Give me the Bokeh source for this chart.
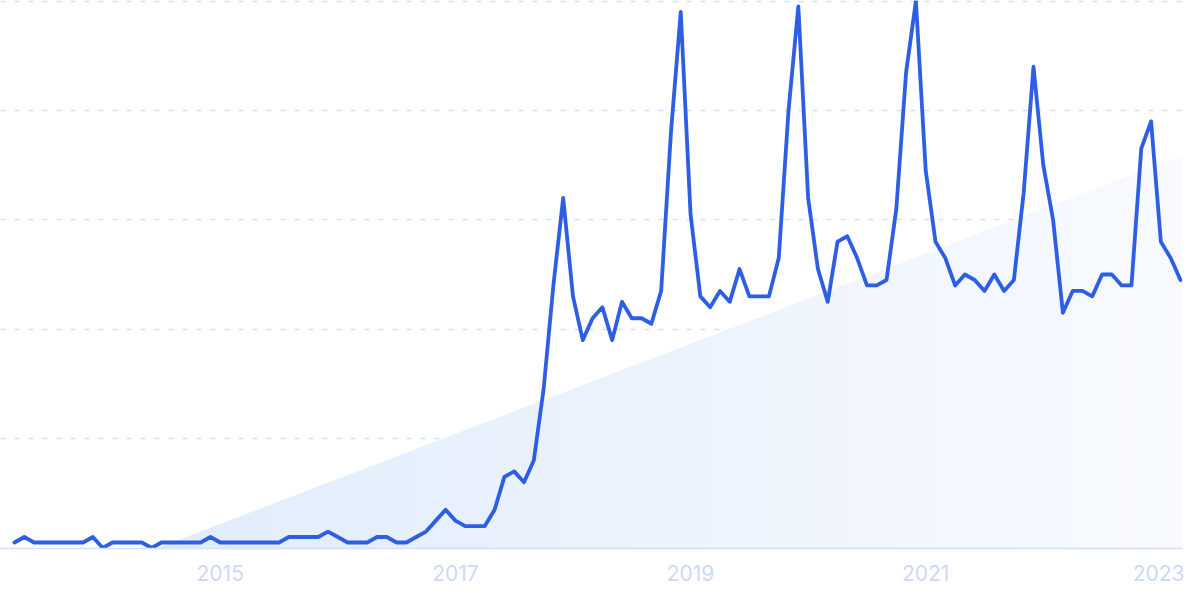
import pandas as pd
from bokeh.plotting import figure
from bokeh.models import Range1d, FixedTicker
from bokeh.embed import file_html
from bokeh.resources import INLINE

# ---- data (monthly, Apr 2013 .. Mar 2023), search interest 0-100 ----
start_month = "2013-04"
interest = [1, 2, 1, 1, 1, 1, 1, 1, 2, 0, 1, 1, 1, 1, 0, 1, 1, 1, 1, 1,
            2, 1, 1, 1, 1, 1, 1, 1, 2, 2, 2, 2, 3, 2, 1, 1, 1, 2, 2, 1,
            1, 2, 3, 5, 7, 5, 4, 4, 4, 7, 13, 14, 12, 16, 29, 48, 64, 46, 38, 42,
            44, 38, 45, 42, 42, 41, 47, 76, 98, 61, 46, 44, 47, 45, 51, 46, 46, 46, 53, 80,
            99, 64, 51, 45, 56, 57, 53, 48, 48, 49, 62, 87, 100, 69, 56, 53, 48, 50, 49, 47,
            50, 47, 49, 65, 88, 70, 60, 43, 47, 47, 46, 50, 50, 48, 48, 73, 78, 56, 53, 49]
tick_years = [2015, 2017, 2019, 2021, 2023]
grid_values = [20, 40, 60, 80, 100]

# trend wedge (background decoration) in data units
trend_start_year = 2014.458
trend_end_value = 71.8

dates = pd.date_range(start_month, periods=len(interest), freq="MS")
xs = [d.year + (d.month - 1) / 12 for d in dates]

X0, X1 = 2013.131, 2023.184
Y0, Y1 = -0.1, 100.1

p = figure(width=1184, height=584, output_backend="svg", toolbar_location=None,
           x_range=Range1d(X0, X1), y_range=Range1d(Y0, Y1),
           min_border_left=0, min_border_right=2, min_border_top=0, min_border_bottom=36)
p.outline_line_color = None
p.background_fill_color = "white"
p.border_fill_color = "white"

# gradient wedge drawn as thin overlapping strips
N = 160
c0 = (225, 236, 252)
c1 = (248, 250, 254)
pxs, pys, cols = [], [], []
w = (X1 - trend_start_year) / N
for i in range(N):
    a = trend_start_year + i * w
    b = min(X1, a + w * 1.6)
    ya = Y0 + (trend_end_value - Y0) * (a - trend_start_year) / (X1 - trend_start_year)
    yb = Y0 + (trend_end_value - Y0) * (b - trend_start_year) / (X1 - trend_start_year)
    t = i / (N - 1)
    col = "#%02x%02x%02x" % tuple(round(c0[k] + (c1[k] - c0[k]) * t) for k in range(3))
    pxs.append([a, a, b, b])
    pys.append([Y0, ya, yb, Y0])
    cols.append(col)
p.patches(pxs, pys, fill_color=cols, line_color=None)

p.line(xs, interest, line_color="#2d5ee4", line_width=3.8, line_join="round", line_cap="round")

# axes / grid
p.yaxis.visible = False
p.xgrid.visible = False
p.ygrid.ticker = FixedTicker(ticks=grid_values)
p.ygrid.grid_line_color = "#cfdefb"
p.ygrid.grid_line_width = 1.5
p.ygrid.grid_line_dash = "5 9"

ax = p.xaxis[0]
ax.ticker = FixedTicker(ticks=tick_years)
ax.axis_line_color = "#d3e0fb"
ax.axis_line_width = 1.5
ax.major_tick_line_color = None
ax.minor_tick_line_color = None
ax.major_tick_out = 0
ax.major_tick_in = 0
ax.major_label_standoff = 16
ax.major_label_text_font = "Inter"
ax.major_label_text_font_size = "21px"
ax.major_label_text_color = "#cdd9f6"

open("out.html", "w").write(file_html(p, INLINE))
